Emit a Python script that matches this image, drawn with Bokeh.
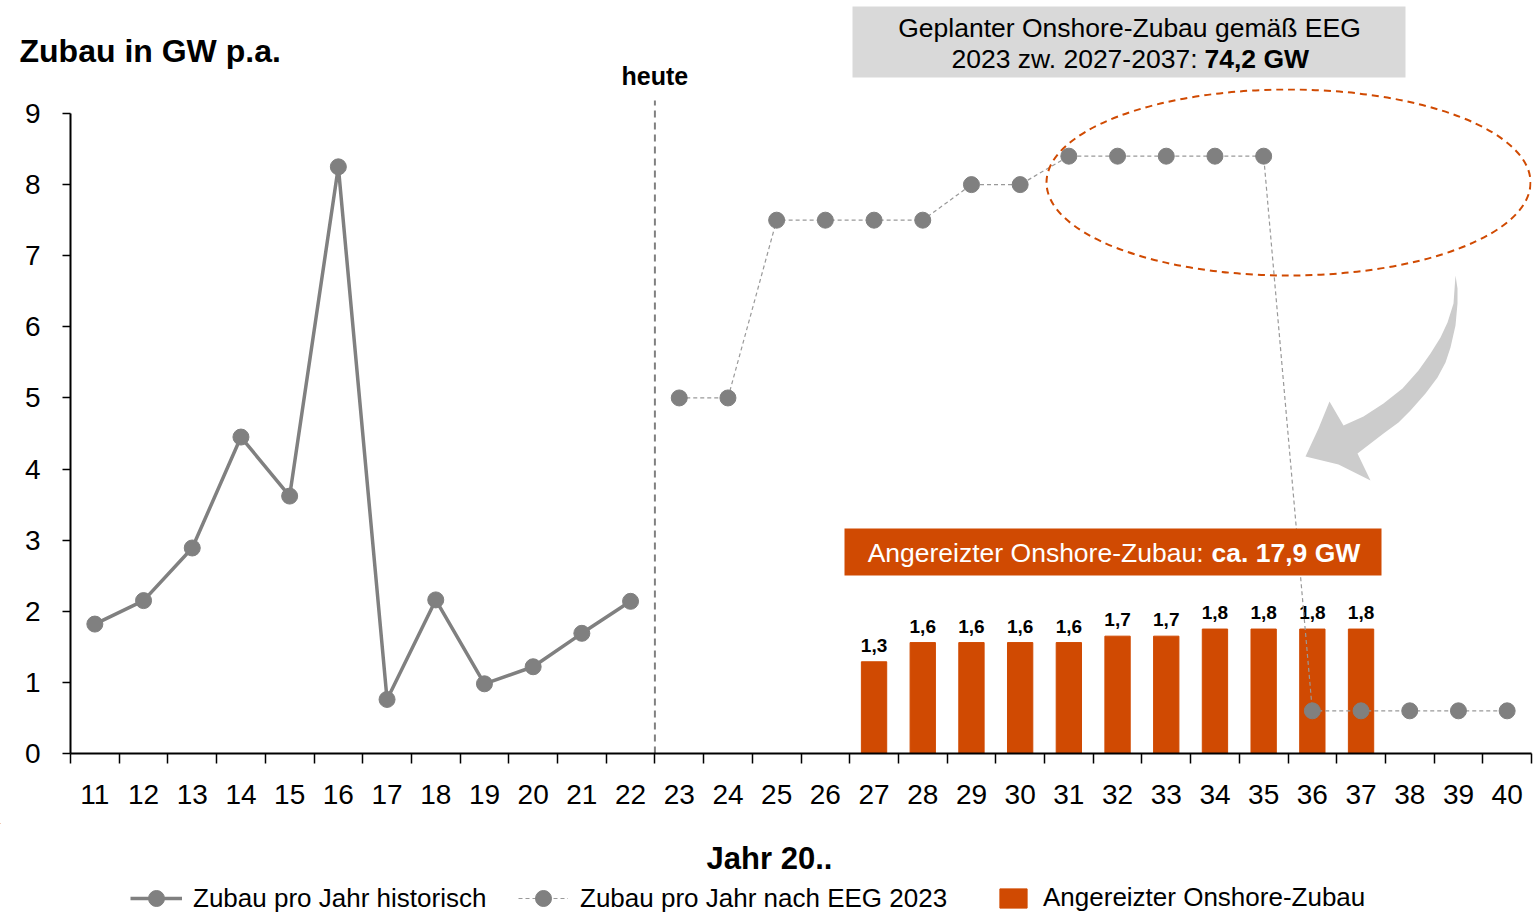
from bokeh.plotting import figure
from bokeh.layouts import column, row
from bokeh.models import Range1d, FixedTicker, Legend, LegendItem, ColumnDataSource
from bokeh.core.properties import value
from bokeh.embed import file_html
from bokeh.resources import INLINE

# ---------------- data ----------------
years_hist = [11, 12, 13, 14, 15, 16, 17, 18, 19, 20, 21, 22]
hist_values = [1.82, 2.15, 2.89, 4.45, 3.62, 8.25, 0.76, 2.16, 0.98, 1.22, 1.69, 2.14]

years_eeg = [23, 24, 25, 26, 27, 28, 29, 30, 31, 32, 33, 34, 35, 36, 37, 38, 39, 40]
eeg_values = [5.0, 5.0, 7.5, 7.5, 7.5, 7.5, 8.0, 8.0, 8.4, 8.4, 8.4, 8.4, 8.4,
              0.6, 0.6, 0.6, 0.6, 0.6]

years_bar = [27, 28, 29, 30, 31, 32, 33, 34, 35, 36, 37]
bar_values = [1.29, 1.56, 1.56, 1.56, 1.56, 1.65, 1.65, 1.75, 1.75, 1.75, 1.75]
bar_labels = ["1,3", "1,6", "1,6", "1,6", "1,6", "1,7", "1,7", "1,8", "1,8", "1,8", "1,8"]

tick_years = list(range(11, 41))
y_ticks = list(range(0, 10))

heute_x = 22.5

series_names = ["Zubau pro Jahr historisch", "Zubau pro Jahr nach EEG 2023",
                "Angereizter Onshore-Zubau"]

# ---------------- styles / layout ----------------
FONT = "Liberation Sans"
GREY = "#808080"
ORANGE = "#D04A02"

TOTAL_W = 1535
TOTAL_H = 912
HEADER_H = 88          # header strip, page y 0..88
FRAME_LEFT = 70        # main frame left
FRAME_W = 1461
FRAME_BOTTOM = 753
MAIN_BOTTOM_BORDER = 70
UX = FRAME_W / 30.0    # px per year
UY = 71.11             # px per GW
FOOT_TOP = FRAME_BOTTOM + MAIN_BOTTOM_BORDER


def dx(px):
    """reference pixel x -> data x"""
    return 10.5 + (px - FRAME_LEFT) / UX


def dy(py):
    """reference pixel y -> data y"""
    return (FRAME_BOTTOM - py) / UY


def strip(top, bottom):
    f = figure(frame_width=TOTAL_W, frame_height=bottom - top,
               x_range=Range1d(0, TOTAL_W), y_range=Range1d(bottom, top),
               x_axis_type=None, y_axis_type=None,
               output_backend="svg", toolbar_location=None, min_border=0)
    f.grid.visible = False
    f.outline_line_color = None
    return f


def text_on(f, text, x, y, size, style="normal", align="left", color="black"):
    f.text(x=[x], y=[y], text=[text], text_font=value(FONT), text_font_size=size,
           text_font_style=style, text_align=align, text_baseline="middle",
           text_color=color)


# ---------------- header strip ----------------
h = strip(0, HEADER_H)
h.quad(left=[852], right=[1405], top=[6], bottom=[77], fill_color="#D9D9D9", line_color=None)
text_on(h, "Zubau in GW p.a.", 19, 50, "32px", "bold")
heute_px = FRAME_LEFT + (heute_x - 10.5) * UX
text_on(h, "heute", heute_px, 75.5, "25px", "bold", "center")
text_on(h, "Geplanter Onshore-Zubau gemäß EEG", 1129, 27, "26.5px", "normal", "center")
text_on(h, "2023 zw. 2027-2037:", 1197, 58, "26.5px", "normal", "right")
text_on(h, "74,2 GW", 1204, 58, "26.5px", "bold", "left")

# ---------------- main chart ----------------
p = figure(frame_width=FRAME_W, frame_height=FRAME_BOTTOM - HEADER_H,
           x_range=Range1d(10.5, 40.5), y_range=Range1d(0, dy(HEADER_H)),
           output_backend="svg", toolbar_location=None,
           min_border_left=FRAME_LEFT, min_border_right=TOTAL_W - FRAME_LEFT - FRAME_W,
           min_border_top=0, min_border_bottom=MAIN_BOTTOM_BORDER)
p.grid.visible = False
p.outline_line_color = None

xa = p.xaxis[0]
xa.ticker = FixedTicker(ticks=tick_years, minor_ticks=[t - 0.5 for t in tick_years] + [40.5])
xa.major_tick_out = 0
xa.major_tick_in = 0
xa.minor_tick_out = 10
xa.minor_tick_in = 0
xa.minor_tick_line_color = "black"
xa.minor_tick_line_width = 1.5
xa.axis_line_width = 2
xa.axis_line_color = "black"
xa.major_label_text_font = FONT
xa.major_label_text_font_size = "28px"
xa.major_label_text_color = "black"
xa.major_label_standoff = 21

ya = p.yaxis[0]
ya.ticker = FixedTicker(ticks=y_ticks)
ya.bounds = (0, 9)
ya.major_tick_out = 8
ya.major_tick_in = 0
ya.minor_tick_line_color = None
ya.axis_line_width = 2
ya.axis_line_color = "black"
ya.major_tick_line_width = 1.5
ya.major_label_text_font = FONT
ya.major_label_text_font_size = "28px"
ya.major_label_text_color = "black"
ya.major_label_standoff = 22

# heute line
p.segment(x0=[heute_x], y0=[0], x1=[heute_x], y1=[dy(100)],
          line_color=GREY, line_width=2, line_dash="7 5")

# curved arrow (decoration), outline in reference pixels
arrow_px = [(1455, 275), (1453, 303), (1447, 322), (1440, 337), (1430, 353), (1418, 370),
            (1402, 388), (1383, 403), (1363, 416), (1343, 425),
            (1329, 401), (1318, 428), (1305, 456), (1338, 464), (1370, 480), (1357, 453),
            (1383, 433), (1398, 422), (1410, 410), (1425, 393), (1437, 377), (1445, 362),
            (1450, 347), (1455, 325), (1457, 303), (1457, 288)]
p.patch([dx(a) for a, b in arrow_px], [dy(b) for a, b in arrow_px],
        fill_color="#CCCCCC", line_color=None)

# bars
bar_src = ColumnDataSource(dict(x=years_bar, top=bar_values, lab=bar_labels))
p.vbar(x="x", top="top", width=0.52, bottom=0, source=bar_src,
       fill_color=ORANGE, line_color=ORANGE)
p.text(x="x", y="top", text="lab", source=bar_src, y_offset=-10,
       text_align="center", text_baseline="bottom",
       text_font=value(FONT), text_font_size="19px", text_font_style="bold",
       text_color="black")

# historical line
hist_src = ColumnDataSource(dict(x=years_hist, y=hist_values))
p.line("x", "y", source=hist_src, line_color=GREY, line_width=3.5)
p.scatter("x", "y", source=hist_src, size=16, fill_color=GREY, line_color=GREY)

# EEG line
eeg_src = ColumnDataSource(dict(x=years_eeg, y=eeg_values))
p.line("x", "y", source=eeg_src, line_color="#999999", line_width=1.2, line_dash="4 3")
p.scatter("x", "y", source=eeg_src, size=16, fill_color=GREY, line_color=GREY)

# ellipse
p.ellipse(x=[dx(1288)], y=[dy(182)], width=[484 / UX], height=[186 / UY],
          fill_color=None, line_color=ORANGE, line_width=2, line_dash="7 5")

# orange box
p.quad(left=[dx(844)], right=[dx(1381)], bottom=[dy(575)], top=[dy(528)],
       fill_color=ORANGE, line_color=None)

for txt, xpx, style, align in [("Angereizter Onshore-Zubau:", 1203, "normal", "right"),
                               ("ca. 17,9 GW", 1211, "bold", "left")]:
    text_on(p, txt, dx(xpx), dy(552), "26.5px", style, align, "white")

# ---------------- footer: axis title + legend ----------------
ft = strip(FOOT_TOP, TOTAL_H)
text_on(ft, "Jahr 20..", 769, 858, "31px", "bold", "center")


def proxy():
    # legend-key proxy source: one point far outside the footer's visible area
    return ColumnDataSource(dict(x=[-1000], y=[-1000], top=[-1000]))


k_hist = [ft.line("x", "y", source=proxy(), line_color=GREY, line_width=3.5),
          ft.scatter("x", "y", source=proxy(), size=16, fill_color=GREY, line_color=GREY)]
k_eeg = [ft.line("x", "y", source=proxy(), line_color="#999999",
                 line_width=1.2, line_dash="4 3"),
         ft.scatter("x", "y", source=proxy(), size=16, fill_color=GREY, line_color=GREY)]
k_bar = [ft.vbar(x="x", top="top", bottom=-1001, width=0.5, source=proxy(),
                 fill_color=ORANGE, line_color=ORANGE)]

for name, rends, xloc, yloc, gw, gh, standoff in [
        (series_names[0], k_hist, 130, -6, 52, 40, 11),
        (series_names[1], k_eeg, 518, -6, 50, 40, 12),
        (series_names[2], k_bar, 996, -1, 34, 24, 13)]:
    lg = Legend(items=[LegendItem(label=name, renderers=rends)],
                orientation="horizontal", location=(xloc, yloc))
    lg.label_text_font = FONT
    lg.label_text_font_size = "26px"
    lg.label_text_color = "black"
    lg.glyph_width = gw
    lg.glyph_height = gh
    lg.label_height = gh
    lg.label_standoff = standoff
    lg.padding = 0
    lg.margin = 0
    lg.border_line_color = None
    lg.background_fill_alpha = 0
    ft.add_layout(lg)

layout = column(row(h), p, row(ft), spacing=0)
open("out.html", "w").write(file_html(layout, INLINE))
